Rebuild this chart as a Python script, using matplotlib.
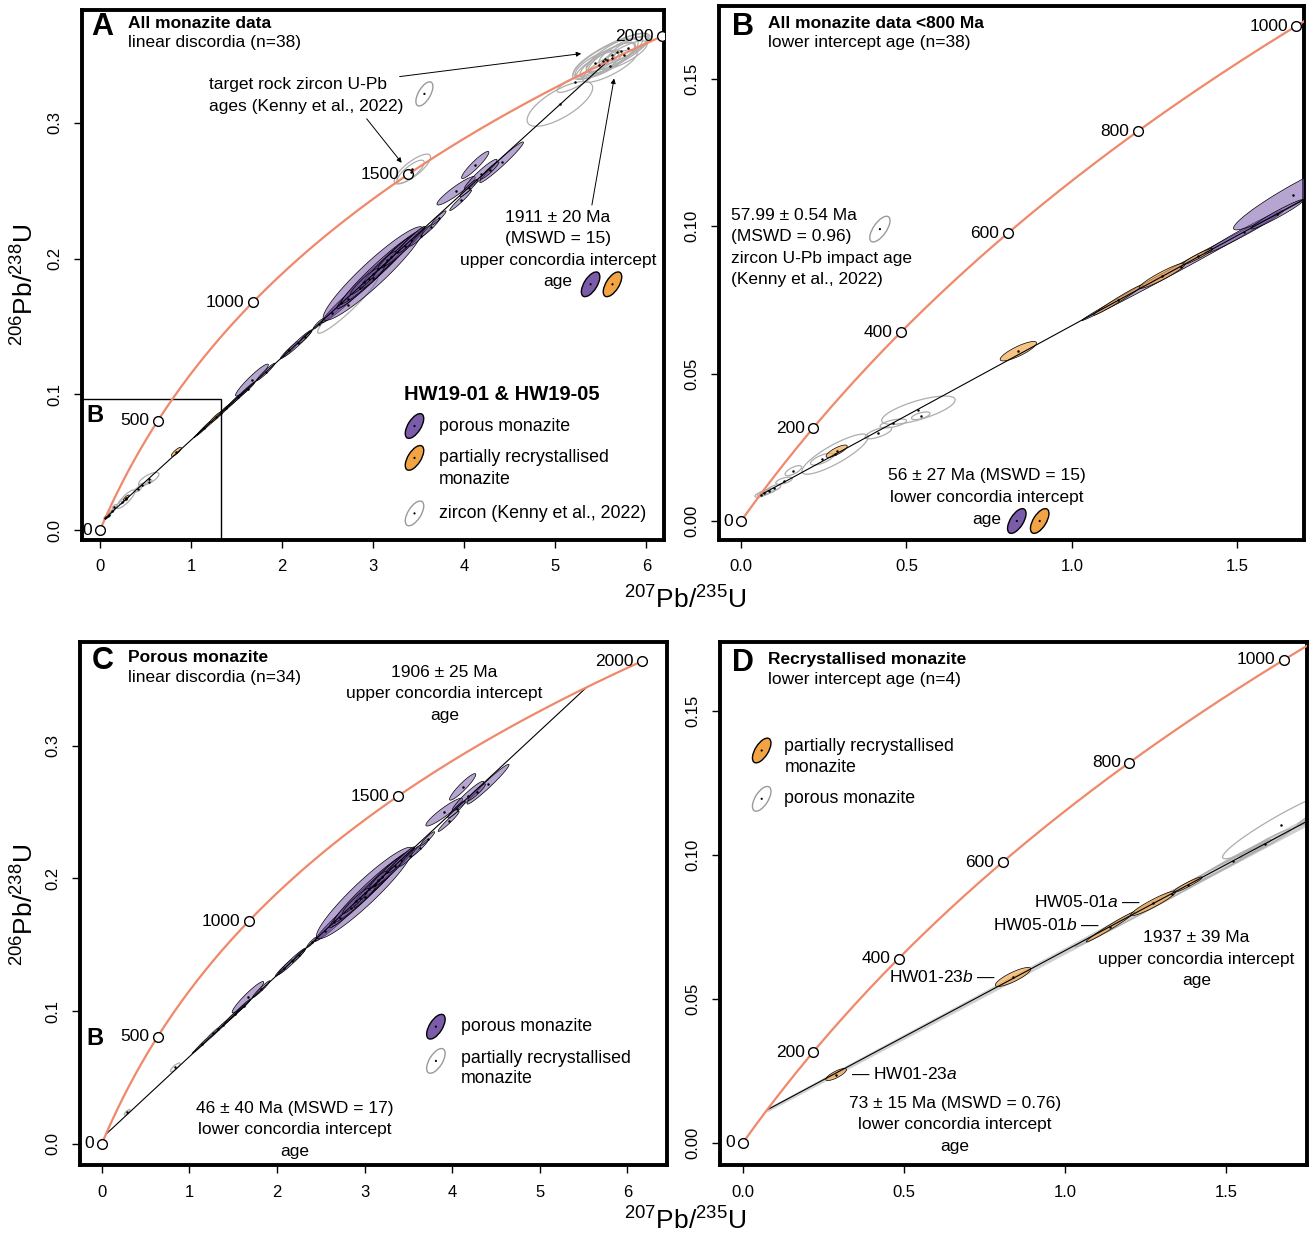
import numpy as np
import matplotlib.pyplot as plt
from matplotlib.patches import Polygon, Ellipse, Rectangle
from matplotlib.transforms import ScaledTranslation
from matplotlib.colors import to_rgba

plt.rcParams['font.family'] = ['Liberation Sans', 'DejaVu Sans']
plt.rcParams['mathtext.fontset'] = 'custom'
plt.rcParams['mathtext.rm'] = 'Liberation Sans'
plt.rcParams['mathtext.it'] = 'Liberation Sans:italic'
plt.rcParams['mathtext.bf'] = 'Liberation Sans:bold'

W, H = 1310, 1236

# decay constants, 1/Myr
LAM238 = 1.55125e-4
LAM235 = 9.8485e-4

# porous monazite: 207Pb/235U, err, 206Pb/238U, err, rho
por_x = [1.33, 1.52, 1.668, 1.62, 1.82, 2.08, 2.17, 2.25, 2.40, 2.55, 2.65, 2.72, 3.00, 2.85, 2.95, 3.05, 3.12,
         3.20, 3.26, 3.00, 3.35, 3.42, 3.52, 3.63, 3.72, 3.91, 3.96, 4.12, 4.18, 4.05, 4.41, 4.28, 2.90, 3.15]
por_sx = [0.30, 0.12, 0.18, 0.08, 0.10, 0.10, 0.16, 0.07, 0.06, 0.12, 0.20, 0.28, 0.55, 0.22, 0.35, 0.40, 0.25,
          0.30, 0.20, 0.12, 0.22, 0.15, 0.12, 0.10, 0.08, 0.21, 0.12, 0.15, 0.18, 0.10, 0.24, 0.10, 0.15, 0.10]
por_y = [0.0863, 0.0980, 0.1105, 0.1040, 0.1165, 0.1325, 0.1375, 0.1420, 0.1520, 0.1600, 0.1670, 0.1705, 0.1890,
         0.1780, 0.1850, 0.1920, 0.1950, 0.2010, 0.2050, 0.1860, 0.2090, 0.2140, 0.2170, 0.2230, 0.2300, 0.2500,
         0.2430, 0.2690, 0.2620, 0.2520, 0.2710, 0.2650, 0.1830, 0.1990]
por_sy = [0.0183, 0.0074, 0.0118, 0.0050, 0.0064, 0.0064, 0.0100, 0.0046, 0.0040, 0.0076, 0.0125, 0.0175, 0.0345,
          0.0140, 0.0220, 0.0250, 0.0157, 0.0190, 0.0128, 0.0078, 0.0140, 0.0098, 0.0078, 0.0065, 0.0052, 0.0105,
          0.0076, 0.0100, 0.0112, 0.0065, 0.0150, 0.0063, 0.0095, 0.0065]
por_rho = [0.998, 0.985, 0.95, 0.97, 0.97, 0.97, 0.975, 0.95, 0.93, 0.97, 0.975, 0.975, 0.94, 0.975, 0.975, 0.975,
           0.97, 0.975, 0.965, 0.95, 0.975, 0.965, 0.96, 0.96, 0.94, 0.93, 0.965, 0.93, 0.95, 0.94, 0.975, 0.94,
           0.95, 0.94]

# partially recrystallised monazite
rec_x = [0.289, 0.838, 1.14, 1.273, 1.38]
rec_sx = [0.032, 0.055, 0.075, 0.070, 0.045]
rec_y = [0.0237, 0.0576, 0.0750, 0.0832, 0.0897]
rec_sy = [0.0021, 0.0033, 0.0052, 0.0043, 0.0027]
rec_rho = [0.80, 0.84, 0.985, 0.94, 0.95]

# zircon (Kenny et al., 2022)
zr_x = [5.57, 5.55, 5.62, 5.62, 5.48, 5.72, 5.75, 5.44, 5.68, 5.52, 5.60, 5.80, 5.22, 5.05, 3.43, 3.41, 2.72,
        0.536, 0.543, 0.46, 0.284, 0.415, 0.245, 0.158, 0.13, 0.10, 0.085, 0.07, 0.06]
zr_sx = [0.30, 0.36, 0.26, 0.42, 0.25, 0.24, 0.26, 0.22, 0.34, 0.18, 0.30, 0.22, 0.20, 0.36, 0.20, 0.15, 0.33,
         0.111, 0.028, 0.04, 0.10, 0.04, 0.035, 0.025, 0.025, 0.02, 0.02, 0.02, 0.018]
zr_y = [0.346, 0.347, 0.348, 0.350, 0.343, 0.353, 0.350, 0.344, 0.352, 0.3455, 0.342, 0.355, 0.330, 0.314, 0.266,
        0.264, 0.166,
        0.0376, 0.0357, 0.0331, 0.0227, 0.0299, 0.0210, 0.0171, 0.0137, 0.0112, 0.0102, 0.0095, 0.0090]
zr_sy = [0.0130, 0.0150, 0.0115, 0.0160, 0.0105, 0.0100, 0.0105, 0.0095, 0.0140, 0.0080, 0.0120, 0.0090, 0.0075,
         0.0165, 0.0110, 0.0085, 0.0210,
         0.0048, 0.0013, 0.0015, 0.0068, 0.0020, 0.0020, 0.0017, 0.0012, 0.0011, 0.0010, 0.0010, 0.0009]
zr_rho = [0.8, 0.8, 0.8, 0.83, 0.8, 0.8, 0.8, 0.8, 0.83, 0.78, 0.8, 0.8, 0.85, 0.72, 0.8, 0.8, 0.95,
          0.72, 0.6, 0.6, 0.85, 0.7, 0.7, 0.7, 0.6, 0.6, 0.6, 0.6, 0.6]

# intercept ages (Ma) and errors
int_all = (56, 1911)
int_por = (46, 1906)
int_rec = (73, 1937)
err_rec = (15, 39)

marks_big = [0, 500, 1000, 1500, 2000]
marks_small = [0, 200, 400, 600, 800, 1000]
xt_big = [0, 1, 2, 3, 4, 5, 6]
yt_big = [0.0, 0.1, 0.2, 0.3]
xt_small = [0.0, 0.5, 1.0, 1.5]
yt_small = [0.00, 0.05, 0.10, 0.15]

PURPLE = '#7B5CAB'
ORANGE = '#F2A444'
ZGREY = '#ADADAD'
CONC = '#F0886A'


def conc(t):
    t = np.asarray(t, float)
    return np.exp(LAM235 * t) - 1, np.exp(LAM238 * t) - 1


def ell(x, sx, y, sy, rho, n=80):
    a = np.linspace(0, 2 * np.pi, n)
    c = rho * sx * sy
    L = np.linalg.cholesky(np.array([[sx ** 2, c], [c, sy ** 2]]))
    p = L @ np.vstack([np.cos(a), np.sin(a)])
    return np.column_stack([x + p[0], y + p[1]])


def draw_set(ax, xs, sxs, ys, sys_, rhos, fc, ec, lw, z):
    for x, sx, y, sy, r in zip(xs, sxs, ys, sys_, rhos):
        ax.add_patch(Polygon(ell(x, sx, y, sy, r), closed=True, fc=fc, ec=ec, lw=lw, zorder=z))
    ax.plot(xs, ys, 'o', ms=1.8, color='k', mec='none', zorder=9)


def draw_conc(ax, tmax, marks):
    cx, cy = conc(np.linspace(0, tmax, 500))
    ax.plot(cx, cy, color=CONC, lw=1.6, zorder=6)
    mx, my = conc(marks)
    ax.plot(mx, my, 'o', ms=7, mfc='white', mec='k', mew=1, zorder=7)
    for t, x, y in zip(marks, mx, my):
        tx = ax.annotate(str(t), (x, y), xytext=(-6, 0), textcoords='offset points',
                         ha='right', va='center', fontsize=12.5, zorder=8)
        tx.set_clip_on(True)


def draw_disc(ax, ages):
    x, y = conc(ages)
    ax.plot(x, y, color='k', lw=0.8, zorder=5)


def setup(ax, xlim, ylim, xt, yt, xl, yl):
    ax.set_xlim(xlim)
    ax.set_ylim(ylim)
    ax.set_xticks(xt)
    ax.set_yticks(yt)
    ax.set_xticklabels(xl)
    ax.set_yticklabels(yl, rotation=90, va='center')
    for s in ax.spines.values():
        s.set_linewidth(2.8)
    ax.tick_params(length=6, width=1, labelsize=12, pad=8, direction='out')


fig = plt.figure(figsize=(13.1, 12.36), dpi=100)
axA = fig.add_axes([82 / W, 1 - 539.5 / H, 581.7 / W, 529.9 / H])
axB = fig.add_axes([719 / W, 1 - 540 / H, 585 / W, 534 / H])
axC = fig.add_axes([80.3 / W, 1 - 1165.4 / H, 586.4 / W, 523.8 / H])
axD = fig.add_axes([720.2 / W, 1 - 1165.4 / H, 587.1 / W, 523.8 / H])

big_xl = [str(v) for v in xt_big]
big_yl = ['%.1f' % v for v in yt_big]
small_xl = ['%.1f' % v for v in xt_small]
small_yl = ['%.2f' % v for v in yt_small]

setup(axA, (-0.198, 6.19), (-0.007, 0.3835), xt_big, yt_big, big_xl, big_yl)
setup(axB, (-0.0665, 1.701), (-0.0064, 0.1746), xt_small, yt_small, small_xl, small_yl)
setup(axC, (-0.246, 6.45), (-0.0163, 0.3785), xt_big, yt_big, big_xl, big_yl)
setup(axD, (-0.0707, 1.751), (-0.0079, 0.1742), xt_small, yt_small, small_xl, small_yl)

por = (por_x, por_sx, por_y, por_sy, por_rho)
rec = (rec_x, rec_sx, rec_y, rec_sy, rec_rho)
zr = (zr_x, zr_sx, zr_y, zr_sy, zr_rho)
pfc = to_rgba(PURPLE, 0.55)
ofc = to_rgba(ORANGE, 0.65)

# A and B: all data
for ax, tmax, marks in [(axA, 2100, marks_big), (axB, 1050, marks_small)]:
    draw_set(ax, *zr, 'none', ZGREY, 0.9, 2)
    draw_set(ax, *por, pfc, 'k', 0.5, 3)
    draw_set(ax, *rec, ofc, 'k', 0.5, 4)
    draw_disc(ax, int_all)
    draw_conc(ax, tmax, marks)

axA.add_patch(Rectangle((-1, -1), 2.33, 1.0963, fill=False, lw=1, ec='k', zorder=5))

# C: porous
draw_set(axC, *rec, 'none', ZGREY, 0.9, 2)
draw_set(axC, *por, pfc, 'k', 0.5, 3)
draw_disc(axC, int_por)
draw_conc(axC, 2000, marks_big)

# D: recrystallised, with error envelope on the discordia
t1, t2 = int_rec
e1, e2 = err_rec
x0 = conc(t1)[0]
xs = np.linspace(x0, 1.9, 200)
lines = []
for a in (t1 - e1 / 2, t1 + e1 / 2):
    for b in (t2 - e2 / 2, t2 + e2 / 2):
        (xa, xb), (ya, yb) = conc([a, b])
        lines.append(ya + (yb - ya) / (xb - xa) * (xs - xa))
lines = np.array(lines)
axD.fill_between(xs, lines.min(0), lines.max(0), color='#BDBDBD', alpha=0.7, lw=0, zorder=1)
draw_set(axD, *por, 'none', ZGREY, 0.9, 2)
draw_set(axD, *rec, ofc, 'k', 0.5, 4)
draw_disc(axD, int_rec)
draw_conc(axD, 1050, marks_small)


# ---- annotation helpers (figure pixel positions)
def txt(x, y, s, **kw):
    kw.setdefault('fontsize', 12.5)
    kw.setdefault('va', 'center')
    fig.text(x / W, 1 - y / H, s, **kw)


def block(x, y0, rows, ha='center', dy=21.5, **kw):
    for i, r in enumerate(rows):
        txt(x, y0 + i * dy, r, ha=ha, **kw)


def arrow(x0, y0, x1, y1):
    axA.annotate('', xy=(x1 / W, 1 - y1 / H), xycoords='figure fraction',
                 xytext=(x0 / W, 1 - y0 / H), textcoords='figure fraction', annotation_clip=False,
                 arrowprops=dict(arrowstyle='-|>', lw=0.7, color='k', mutation_scale=7,
                                 shrinkA=0, shrinkB=0))


def key(x, y, fc, ec, w=28, h=13, ang=58, lw=1.0):
    tr = fig.dpi_scale_trans + ScaledTranslation(x / W, 1 - y / H, fig.transFigure)
    fig.add_artist(Ellipse((0, 0), w / 100, h / 100, angle=ang, fc=fc, ec=ec, lw=lw, transform=tr, zorder=10))
    fig.add_artist(Ellipse((0, 0), 0.022, 0.022, fc='k', ec='none', transform=tr, zorder=11))


# panel headers
for x, y, letter, title, sub in [(102.6, 26.8, 'A', 'All monazite data', 'linear discordia (n=38)'),
                                 (743, 26.8, 'B', 'All monazite data <800 Ma', 'lower intercept age (n=38)'),
                                 (102.6, 661.3, 'C', 'Porous monazite', 'linear discordia (n=34)'),
                                 (743, 663, 'D', 'Recrystallised monazite', 'lower intercept age (n=4)')]:
    txt(x, y, letter, ha='center', fontsize=22, fontweight='bold')
    txt(x + 25, y - 3.5, title, ha='left', fontweight='bold')
    txt(x + 25, y + 16, sub, ha='left')

txt(94.9, 415.7, 'B', ha='center', fontsize=17, fontweight='bold')
txt(94.9, 1038.5, 'B', ha='center', fontsize=17, fontweight='bold')

# panel A
block(209.4, 84.3, ['target rock zircon U-Pb', 'ages (Kenny et al., 2022)'], ha='left', dy=21.8)
key(424.4, 93.9, 'none', '#9A9A9A', w=27, h=12, ang=60)
arrow(399.6, 76.6, 581.2, 53.6)
arrow(366.7, 118.8, 401.7, 162.8)
block(557.7, 217.6, ['1911 \u00b1 20 Ma', '(MSWD = 15)', 'upper concordia intercept', 'age'], dy=21.3)
key(590.6, 284.3, PURPLE, 'k')
key(612.5, 284.3, ORANGE, 'k')
arrow(591.9, 205, 614.1, 78.5)
txt(403.8, 394.6, 'HW19-01 & HW19-05', ha='left', fontsize=14.5, fontweight='bold')
key(414.5, 426, PURPLE, 'k')
txt(438.9, 426, 'porous monazite', ha='left', fontsize=12.8)
key(414.5, 457.9, ORANGE, 'k')
block(438.9, 457.9, ['partially recrystallised', 'monazite'], ha='left', dy=21.8, fontsize=12.8)
key(414.5, 513.4, 'none', '#9A9A9A')
txt(438.9, 513.4, 'zircon (Kenny et al., 2022)', ha='left', fontsize=12.8)

# panel B
block(731.4, 215.3, ['57.99 \u00b1 0.54 Ma', '(MSWD = 0.96)', 'zircon U-Pb impact age', '(Kenny et al., 2022)'],
      ha='left', dy=21.5)
key(879.9, 229.1, 'none', '#9A9A9A', w=30, h=13, ang=55)
arrow(764.6, 300.8, 761.7, 477)
block(986.6, 475.9, ['56 \u00b1 27 Ma (MSWD = 15)', 'lower concordia intercept', 'age'], dy=21.7)
key(1016.8, 521, PURPLE, 'k')
key(1039.7, 521, ORANGE, 'k')
arrow(869.5, 500, 782.4, 494.3)

# panel C
block(444.4, 672.3, ['1906 \u00b1 25 Ma', 'upper concordia intercept', 'age'], dy=21.6)
arrow(508.5, 676.2, 576.9, 686)
block(294.9, 1108, ['46 \u00b1 40 Ma (MSWD = 17)', 'lower concordia intercept', 'age'], dy=21.6)
arrow(190.2, 1132.8, 114.5, 1132)
key(435.9, 1026.7, PURPLE, 'k')
txt(460.7, 1026.7, 'porous monazite', ha='left', fontsize=12.8)
key(435.9, 1060.9, 'none', '#9A9A9A')
block(460.7, 1058.1, ['partially recrystallised', 'monazite'], ha='left', dy=20.8, fontsize=12.8)

# panel D
key(761.7, 750.5, ORANGE, 'k')
block(784.5, 746.5, ['partially recrystallised', 'monazite'], ha='left', dy=21.5, fontsize=12.8)
key(761.7, 798.8, 'none', '#9A9A9A')
txt(784.5, 798.8, 'porous monazite', ha='left', fontsize=12.8)
txt(1141.3, 901.7, 'HW05-01$\\mathit{a}$ \u2014', ha='right')
txt(1100, 924.5, 'HW05-01$\\mathit{b}$ \u2014', ha='right')
txt(996, 976.8, 'HW01-23$\\mathit{b}$ \u2014', ha='right')
txt(851, 1073.8, '\u2014 HW01-23$\\mathit{a}$', ha='left')
block(1196.5, 937.5, ['1937 \u00b1 39 Ma', 'upper concordia intercept', 'age'], dy=21.6)
arrow(1216, 924.5, 1294, 868)
block(954.6, 1103.3, ['73 \u00b1 15 Ma (MSWD = 0.76)', 'lower concordia intercept', 'age'], dy=21.6)
arrow(832, 1121, 776, 1115)

# shared axis labels
xlab = r'$^{207}$Pb/$^{235}$U'
ylab = r'$^{206}$Pb/$^{238}$U'
txt(685, 600, xlab, ha='center', fontsize=19)
txt(685, 1221, xlab, ha='center', fontsize=19)
txt(25, 285, ylab, ha='center', fontsize=19, rotation=90)
txt(25, 905, ylab, ha='center', fontsize=19, rotation=90)

fig.savefig('out.png', dpi=100)
